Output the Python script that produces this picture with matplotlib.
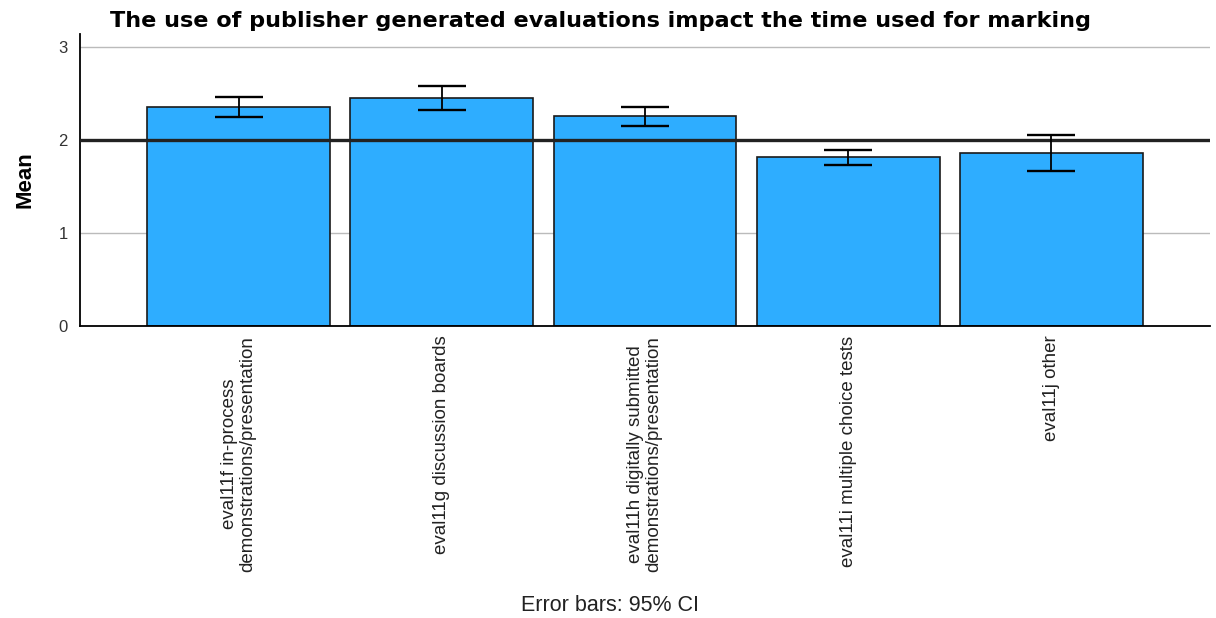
import matplotlib.pyplot as plt

# ===== data =====
categories = [
    'eval11f in-process\ndemonstrations/presentation',
    'eval11g discussion boards',
    'eval11h digitally submitted\ndemonstrations/presentation',
    'eval11i multiple choice tests',
    'eval11j other',
]
means = [2.36, 2.45, 2.26, 1.82, 1.86]
ci_low = [2.25, 2.32, 2.15, 1.73, 1.67]
ci_high = [2.46, 2.58, 2.36, 1.89, 2.05]
ref_value = 2.0
y_ticks = [0, 1, 2, 3]

plt.rcParams['font.family'] = ['Liberation Sans', 'DejaVu Sans']

fig = plt.figure(figsize=(12.16, 6.18), dpi=100)
ax = fig.add_axes([80 / 1216, 1 - 326 / 618, 1130 / 1216, 292 / 618])

x = list(range(len(categories)))
err_lo = [m - l for m, l in zip(means, ci_low)]
err_hi = [h - m for m, h in zip(means, ci_high)]

ax.bar(x, means, width=0.9, color='#2EADFF', edgecolor='#1a1a1a', linewidth=1.2, zorder=2)
ax.errorbar(x, means, yerr=[err_lo, err_hi], fmt='none', ecolor='black',
            elinewidth=1.3, capsize=17, capthick=1.7, zorder=4)
ax.axhline(ref_value, color='#222222', linewidth=2.4, zorder=3)

ax.set_xlim(-0.78, len(categories) - 0.22)
ax.set_ylim(0, 3.14)
ax.set_yticks(y_ticks)
ax.yaxis.grid(True, color='#bbbbbb', linewidth=1, zorder=0)
ax.set_axisbelow(True)

for side in ['top', 'right']:
    ax.spines[side].set_visible(False)
ax.spines['left'].set_linewidth(1.3)
ax.spines['bottom'].set_linewidth(1.3)

ax.set_xticks(x)
ax.set_xticklabels(categories, rotation=90, fontsize=13.5, linespacing=1.1,
                   color='#222222', va='top', ha='center')
ax.tick_params(axis='x', length=0, pad=7)
ax.tick_params(axis='y', labelsize=12, length=0, pad=9, labelcolor='#333333')

ax.set_ylabel('Mean', fontsize=16, fontweight='bold', labelpad=16)
fig.suptitle('The use of publisher generated evaluations impact the time used for marking',
             fontsize=16.1, fontweight='bold', family='DejaVu Sans', x=0.494, y=0.983)
fig.text(0.502, 0.012, 'Error bars: 95% CI', ha='center', va='baseline',
         fontsize=15.5, color='#222222')

plt.savefig('out.png', dpi=100)
